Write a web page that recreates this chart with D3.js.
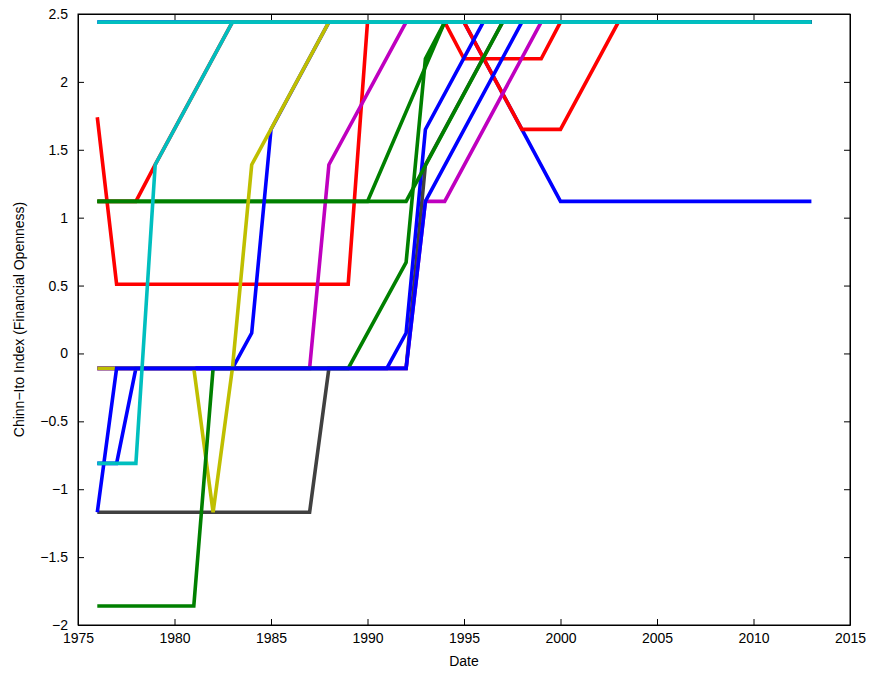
<!DOCTYPE html>
<html><head><meta charset="utf-8">
<script src="https://cdn.jsdelivr.net/npm/d3@7"></script>
<style>body{margin:0;background:#fff}text{font-family:"Liberation Sans",Arial,sans-serif}</style>
</head><body><svg id="c" width="875" height="674"></svg>
<script>
const xTicks=[1975,1980,1985,1990,1995,2000,2005,2010,2015];
const yTicks=[-2,-1.5,-1,-0.5,0,0.5,1,1.5,2,2.5];
// series as [year, value] vertices
const red1=[[1976,1.74],[1977,0.51],[1989,0.51],[1990,2.44],[1994,2.44],[1995,2.17],[1999,2.17],[2000,2.44],[2013,2.44]];
const red2=[[1976,1.12],[1978,1.12],[1979,1.39],[1983,2.44],[1995,2.44],[1998,1.65],[2000,1.65],[2003,2.44],[2013,2.44]];
const yellow1=[[1976,-0.11],[1981,-0.11],[1982,-1.17],[1983,-0.11],[1984,1.39],[1988,2.44],[2013,2.44]];
const gray1=[[1976,-1.17],[1987,-1.17],[1988,-0.11],[1992,-0.11],[1993,1.39],[1997,2.44],[2013,2.44]];
const magenta1=[[1976,-0.11],[1987,-0.11],[1988,1.39],[1992,2.44],[2013,2.44]];
const magenta2=[[1976,-0.11],[1992,-0.11],[1993,1.12],[1994,1.12],[1999,2.44],[2013,2.44]];
const greenA=[[1976,1.12],[1990,1.12],[1994,2.44],[2013,2.44]];
const greenB=[[1976,1.12],[1992,1.12],[1997,2.44],[2013,2.44]];
const greenC=[[1976,-1.86],[1981,-1.86],[1982,-0.11],[1989,-0.11],[1992,0.67],[1993,2.17],[1994,2.44],[2013,2.44]];
const blue1=[[1976,-1.17],[1977,-0.11],[1992,-0.11],[1993,1.12],[1998,2.44],[2013,2.44]];
const blue2=[[1976,-0.81],[1977,-0.81],[1978,-0.11],[1983,-0.11],[1984,0.15],[1985,1.65],[1988,2.44],[2013,2.44]];
const blue3=[[1976,-0.11],[1991,-0.11],[1992,0.15],[1993,1.65],[1996,2.44],[2013,2.44]];
const blue5=[[1976,2.44],[1995,2.44],[1998,1.65],[2000,1.12],[2013,1.12]];
const cyan1=[[1976,-0.81],[1978,-0.81],[1979,1.39],[1983,2.44],[2013,2.44]];
const cyan2=[[1976,2.44],[2013,2.44]];
const series=[
 [blue5,"#0000ff"],[red2,"#ff0000"],[red1,"#ff0000"],[gray1,"#404040"],[magenta1,"#bf00bf"],[magenta2,"#bf00bf"],
 [blue3,"#0000ff"],[greenB,"#008000"],[greenA,"#008000"],
 [blue2,"#0000ff"],[yellow1,"#bfbf00"],[greenC,"#008000"],[blue1,"#0000ff"],[cyan1,"#00bfbf"],[cyan2,"#00bfbf"]];
const L=78,R=850,T=14,B=625;
const svg=d3.select("#c");
const x=d3.scaleLinear().domain([1975,2015]).range([L,R]);
const y=d3.scaleLinear().domain([-2,2.5]).range([B,T]);
const line=d3.line().x(d=>x(d[0])).y(d=>y(d[1]));
svg.append("g").selectAll("path").data(series).join("path").attr("d",d=>line(d[0]))
 .attr("fill","none").attr("stroke",d=>d[1]).attr("stroke-width",3.6).attr("stroke-linejoin","miter");
const fmt=v=>String(v).replace("-","\u2212");
const gb=svg.append("g").attr("transform",`translate(0,${B})`).call(d3.axisBottom(x).tickValues(xTicks).tickFormat(d=>d).tickSizeInner(-6).tickSizeOuter(0).tickPadding(8));
const gt=svg.append("g").attr("transform",`translate(0,${T})`).call(d3.axisTop(x).tickValues(xTicks).tickFormat("").tickSizeInner(-6).tickSizeOuter(0));
const gl=svg.append("g").attr("transform",`translate(${L},0)`).call(d3.axisLeft(y).tickValues(yTicks).tickFormat(d=>fmt(d)).tickSizeInner(-6).tickSizeOuter(0).tickPadding(10));
const gr=svg.append("g").attr("transform",`translate(${R},0)`).call(d3.axisRight(y).tickValues(yTicks).tickFormat("").tickSizeInner(-6).tickSizeOuter(0));
[gb,gt,gl,gr].forEach(g=>{g.selectAll("path,line").attr("stroke","#000");g.selectAll("text").attr("font-size",14).attr("fill","#000").attr("font-family","Liberation Sans, Arial");});
svg.append("rect").attr("x",L).attr("y",T).attr("width",R-L).attr("height",B-T).attr("fill","none").attr("stroke","#000");
svg.append("text").attr("x",(L+R)/2).attr("y",666).attr("text-anchor","middle").attr("font-size",14).text("Date");
svg.append("text").attr("transform",`translate(24,${(T+B)/2}) rotate(-90)`).attr("text-anchor","middle").attr("font-size",14).text("Chinn\u2212Ito Index (Financial Openness)");
</script></body></html>
